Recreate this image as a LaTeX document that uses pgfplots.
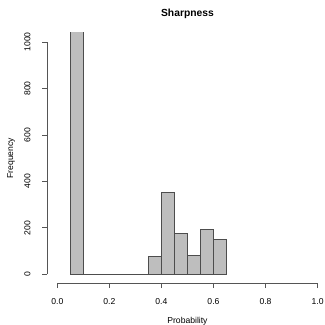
\documentclass[border=0pt]{standalone}
\usepackage{fontspec}
\setmainfont{Liberation Sans}
\usepackage{pgfplots}
\pgfplotsset{compat=1.18}
\definecolor{barfill}{HTML}{BEBEBE}
\definecolor{baredge}{HTML}{4D4D4D}
\definecolor{axgray}{HTML}{555555}
\begin{document}
\begin{tikzpicture}
\begin{axis}[
  scale only axis,
  width=281.1pt, height=250.9pt,
  xmin=-0.04, xmax=1.04, ymin=-40, ymax=1040,
  axis lines*=left,
  axis line style={draw=none},
  clip mode=individual,
  tick align=outside,
  major tick length=4.5pt,
  tick style={axgray, line width=0.7pt},
  xtick={0,0.2,0.4,0.6,0.8,1.0},
  ytick={0,200,400,600,800,1000},
  /pgf/number format/assume math mode=true,
  /pgf/number format/1000 sep={},
  xticklabel style={/pgf/number format/fixed, /pgf/number format/fixed zerofill, /pgf/number format/precision=1, font=\fontsize{8.6}{9}\selectfont, anchor=center, yshift=-13.5pt},
  yticklabel style={rotate=90, font=\fontsize{8.6}{9}\selectfont, anchor=center, yshift=14.9pt},
  xlabel={Probability},
  ylabel={Frequency},
  xlabel style={font=\fontsize{8.6}{9}\selectfont, at={(axis description cs:0.5,0)}, anchor=center, yshift=-37.9pt},
  ylabel style={font=\fontsize{8.6}{9}\selectfont, at={(axis description cs:0,0.5)}, anchor=center, yshift=35.9pt},
  title={Sharpness},
  title style={font=\fontsize{10.3}{11}\selectfont\bfseries, at={(axis description cs:0.5,1)}, anchor=center, yshift=12.7pt},
]
\addplot[ybar interval, fill=barfill, draw=baredge, line width=0.8pt] coordinates {
  (0.05,1500) (0.10,0) (0.15,0) (0.20,0) (0.25,0) (0.30,0)
  (0.35,76) (0.40,351) (0.45,176) (0.50,80) (0.55,195) (0.60,151) (0.65,151)
};
\draw[axgray, line width=0.7pt] (axis cs:0,-40) -- (axis cs:1,-40);
\draw[axgray, line width=0.7pt] (axis cs:-0.04,0) -- (axis cs:-0.04,1000);
\end{axis}
\pgfresetboundingbox
\useasboundingbox (-46.9pt,-41.4pt) rectangle (278.1pt,283.6pt);
\end{tikzpicture}
\end{document}
